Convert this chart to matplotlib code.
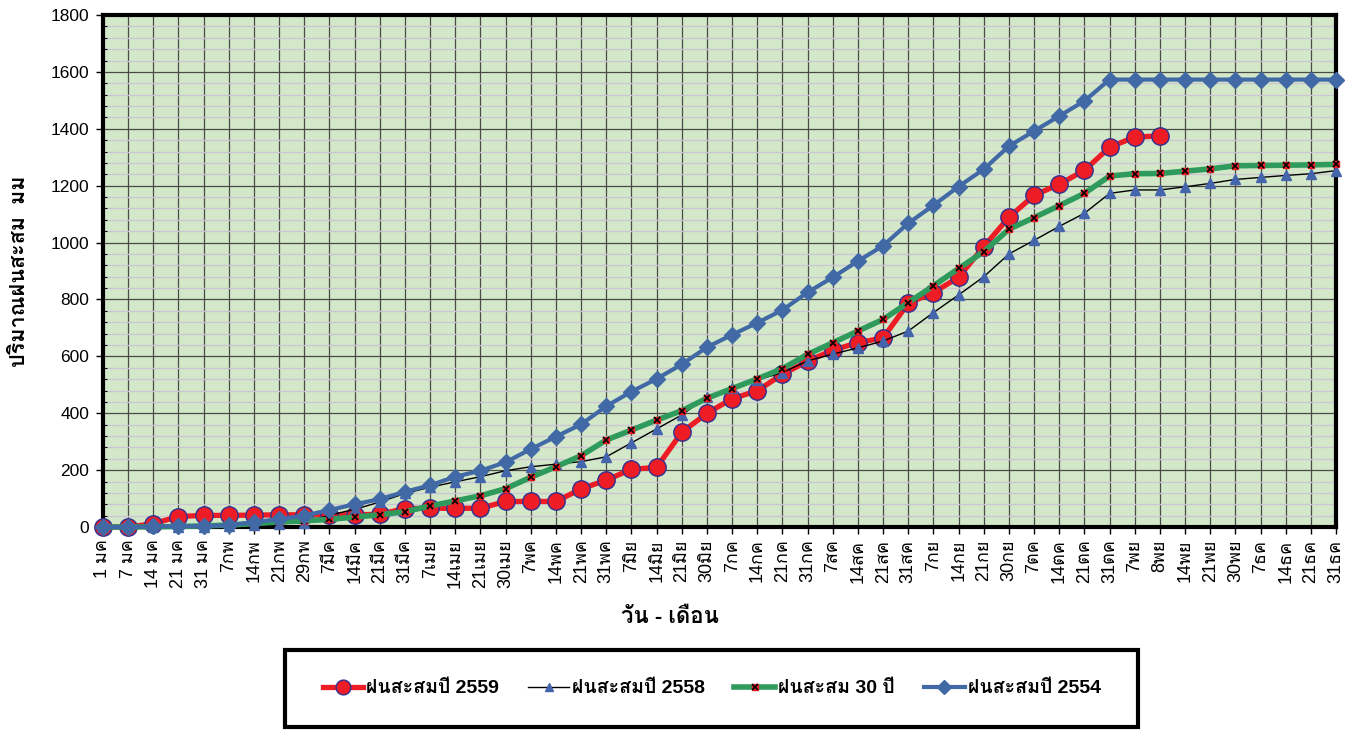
import matplotlib
matplotlib.use("Agg")
import matplotlib.pyplot as plt
from matplotlib import font_manager, ft2font
from matplotlib.patches import Rectangle
from matplotlib.ticker import MultipleLocator
import numpy as np

# families that carry Thai glyphs (ก = U+0E01)
thai_fams = []
for f in font_manager.fontManager.ttflist:
    try:
        cmap = ft2font.FT2Font(f.fname).get_charmap()
    except Exception:
        continue
    if 0x0E01 in cmap and f.name not in thai_fams:
        thai_fams.append(f.name)

plt.rcParams['font.family'] = ['Liberation Sans'] + thai_fams + ['DejaVu Sans']

dates = ["1 มค", "7 มค", "14 มค", "21 มค", "31 มค", "7กพ", "14กพ", "21กพ", "29กพ", "7มีค",
         "14มีค", "21มีค", "31มีค", "7เมย", "14เมย", "21เมย", "30เมย", "7พค", "14พค", "21พค",
         "31พค", "7มิย", "14มิย", "21มิย", "30มิย", "7กค", "14กค", "21กค", "31กค", "7สค",
         "14สค", "21สค", "31สค", "7กย", "14กย", "21กย", "30กย", "7ตค", "14ตค", "21ตค",
         "31ตค", "7พย", "8พย", "14พย", "21พย", "30พย", "7ธค", "14ธค", "21ธค", "31ธค"]

# ฝนสะสม (มม.)
rain_2559 = [0, 0, 12, 37, 41, 41, 42, 43, 43, 43, 43, 45, 65, 66, 66, 66, 90, 90, 90, 134,
             165, 203, 210, 333, 400, 451, 479, 537, 583, 622, 648, 665, 787, 824, 878, 986,
             1089, 1166, 1205, 1254, 1335, 1371, 1375]
rain_2558 = [0, 0, 0, 0, 0, 3, 8, 12, 15, 42, 62, 88, 118, 140, 159, 177, 198, 212, 221, 230,
             247, 296, 345, 394, 458, 490, 517, 543, 584, 608, 630, 654, 689, 754, 816, 880,
             960, 1008, 1057, 1103, 1173, 1185, 1185, 1196, 1208, 1222, 1229, 1236, 1242, 1253]
rain_30y = [0, 0, 1, 2, 4, 7, 12, 18, 22, 27, 35, 43, 54, 74, 92, 110, 135, 175, 212, 251,
            306, 341, 376, 409, 453, 487, 521, 557, 607, 648, 689, 730, 789, 848, 909, 968,
            1047, 1088, 1130, 1173, 1234, 1242, 1243, 1251, 1259, 1270, 1271, 1272, 1273, 1275]
rain_2554 = [0, 0, 2, 3, 3, 7, 17, 28, 40, 60, 80, 98, 124, 147, 177, 198, 228, 274, 318, 361,
             425, 476, 521, 572, 632, 676, 718, 763, 825, 878, 935, 989, 1068, 1131, 1197, 1258,
             1339, 1392, 1445, 1498, 1573, 1573, 1573, 1573, 1573, 1573, 1573, 1573, 1573, 1573]

fig = plt.figure(figsize=(13.62, 7.31), dpi=100)
ax = fig.add_axes([0.0756, 0.279, 0.9054, 0.7005])
ax.set_facecolor('#D3E8C8')

x = np.arange(len(dates))

l1, = ax.plot(x[:len(rain_2559)], rain_2559, color='#EE1C25', lw=3.8, marker='o', ms=12.5,
              mfc='#EE1C25', mec='#2E3192', mew=1.0, clip_on=False, zorder=3)
l2, = ax.plot(x, rain_2558, color='black', lw=1.0, marker='^', ms=7.5,
              mfc='#4464AC', mec='#4464AC', clip_on=False, zorder=4)
l3, = ax.plot(x, rain_30y, color='#2E9A5C', lw=4.0, marker='s', ms=4.5,
              mfc='#EE1C25', mec='#EE1C25', clip_on=False, zorder=5)
l3x, = ax.plot(x, rain_30y, ls='none', marker='x', ms=4.5, mec='black', mew=1.2,
               clip_on=False, zorder=5)
l4, = ax.plot(x, rain_2554, color='#4169A5', lw=3.0, marker='D', ms=8.5,
              mfc='#4169A5', mec='#4169A5', clip_on=False, zorder=6)

ax.set_xlim(0, len(dates) - 1)
ax.set_ylim(0, 1800)
ax.set_xticks(x)
ax.set_xticklabels(dates, rotation=90, fontsize=13)
ax.yaxis.set_major_locator(MultipleLocator(200))
ax.yaxis.set_minor_locator(MultipleLocator(40))
ax.tick_params(axis='y', which='major', direction='out', length=5, width=1, labelsize=12.5, pad=5)
ax.tick_params(axis='y', which='minor', direction='in', length=3, width=0.8)
ax.tick_params(axis='x', which='major', direction='out', length=5, width=1, pad=4)

ax.grid(True, which='minor', axis='y', color='#CCC5D6', lw=1.0, zorder=0)
ax.grid(True, which='major', axis='y', color='#4A4A4A', lw=0.9, zorder=1)
ax.grid(True, which='major', axis='x', color='#4A4A4A', lw=0.9, zorder=1)
ax.set_axisbelow(True)

for side in ['left', 'bottom', 'right', 'top']:
    ax.spines[side].set_linewidth(3)

fig.text(0.014, 0.629, 'ปริมาณฝนสะสม  มม', rotation=90, ha='center', va='center',
         fontsize=15.5, fontweight='bold')
fig.text(0.492, 0.155, 'วัน - เดือน', ha='center', va='center', fontsize=16, fontweight='bold')

# legend box
fig.patches.append(Rectangle((285 / 1362, 1 - 727 / 731), 853 / 1362, 77 / 731,
                             transform=fig.transFigure, fill=True, facecolor='white',
                             edgecolor='black', lw=3, zorder=0))
fig.legend([l1, l2, (l3, l3x), l4],
           ['ฝนสะสมปี 2559', 'ฝนสะสมปี 2558', 'ฝนสะสม 30 ปี', 'ฝนสะสมปี 2554'],
           loc='center', bbox_to_anchor=(0.5224, 0.058), ncol=4, frameon=False,
           handlelength=2.1, handletextpad=0.15, columnspacing=1.5, markerscale=0.85,
           prop={'weight': 'bold', 'size': 14})

fig.savefig('out.png', dpi=100)
